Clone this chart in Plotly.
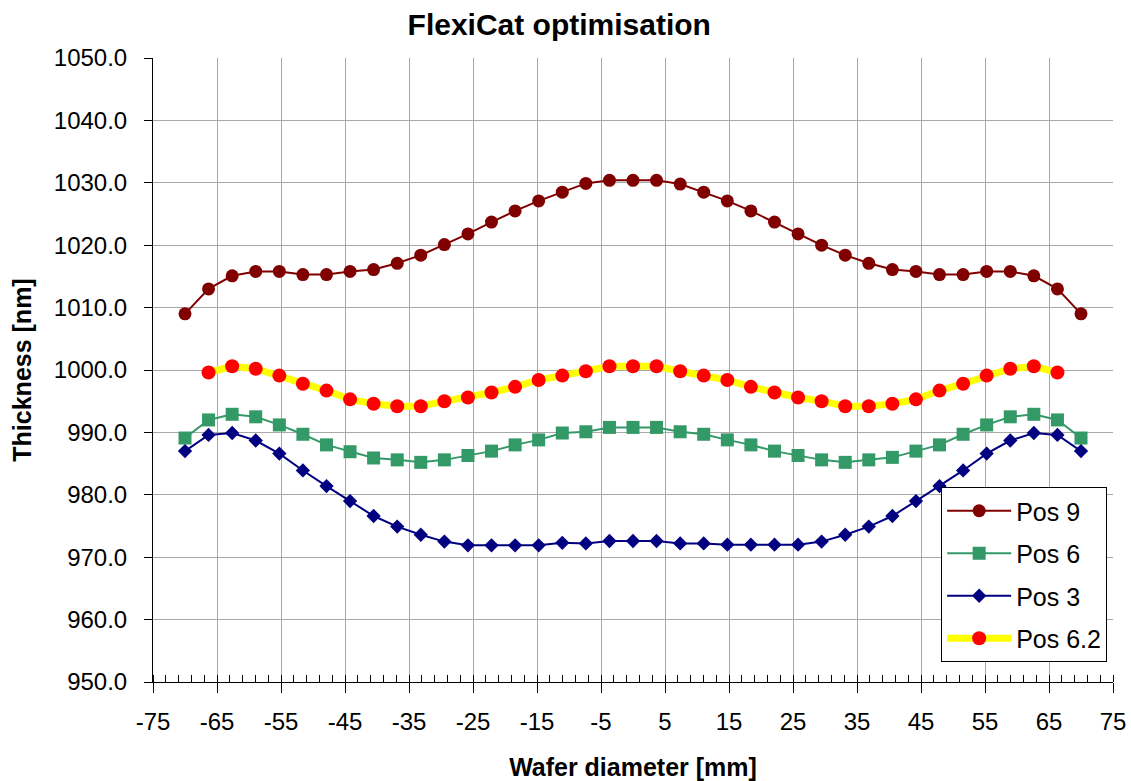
import plotly.graph_objects as go

# x positions (mm) of the measurement points
x_full = [-70.0, -66.32, -62.63, -58.95, -55.26, -51.58, -47.89, -44.21, -40.53, -36.84,
          -33.16, -29.47, -25.79, -22.11, -18.42, -14.74, -11.05, -7.37, -3.68, 0.0,
          3.68, 7.37, 11.05, 14.74, 18.42, 22.11, 25.79, 29.47, 33.16, 36.84,
          40.53, 44.21, 47.89, 51.58, 55.26, 58.95, 62.63, 66.32, 70.0]
x_inner = x_full[1:-1]

pos9 = [1009.0, 1013.0, 1015.1, 1015.8, 1015.8, 1015.3, 1015.3, 1015.8, 1016.1, 1017.1,
        1018.4, 1020.1, 1021.8, 1023.7, 1025.5, 1027.1, 1028.5, 1029.9, 1030.4, 1030.4,
        1030.4, 1029.8, 1028.5, 1027.1, 1025.5, 1023.7, 1021.8, 1020.0, 1018.4, 1017.1,
        1016.1, 1015.8, 1015.3, 1015.3, 1015.8, 1015.8, 1015.1, 1013.0, 1009.0]

pos6 = [989.1, 992.0, 992.9, 992.5, 991.2, 989.7, 988.0, 986.9, 985.9, 985.6,
        985.2, 985.6, 986.3, 987.0, 988.0, 988.8, 989.9, 990.1, 990.8, 990.8,
        990.8, 990.1, 989.7, 988.8, 988.0, 987.0, 986.3, 985.6, 985.2, 985.6,
        986.0, 987.0, 988.0, 989.7, 991.2, 992.5, 992.9, 992.0, 989.1]

pos3 = [987.0, 989.6, 989.9, 988.7, 986.6, 983.9, 981.4, 979.0, 976.6, 974.9,
        973.6, 972.5, 971.9, 971.9, 971.9, 971.9, 972.3, 972.2, 972.6, 972.6,
        972.6, 972.2, 972.2, 972.0, 972.0, 972.0, 972.0, 972.5, 973.6, 974.9,
        976.6, 979.0, 981.4, 983.9, 986.6, 988.7, 989.9, 989.6, 987.0]

pos62 = [999.6, 1000.6, 1000.2, 999.1, 997.8, 996.7, 995.3, 994.6, 994.2, 994.2,
         995.0, 995.6, 996.4, 997.3, 998.4, 999.1, 999.8, 1000.6, 1000.6,
         1000.6, 999.8, 999.1, 998.4, 997.3, 996.4, 995.6, 995.0, 994.2, 994.2,
         994.6, 995.3, 996.7, 997.8, 999.1, 1000.2, 1000.6, 999.6]

x_ticks = [-75, -65, -55, -45, -35, -25, -15, -5, 5, 15, 25, 35, 45, 55, 65, 75]
x_tick_text = [str(v) for v in x_ticks]
y_ticks = [950, 960, 970, 980, 990, 1000, 1010, 1020, 1030, 1040, 1050]
y_tick_text = ["%.1f" % v for v in y_ticks]

FONT = "Liberation Sans, Arial, sans-serif"

fig = go.Figure()
fig.add_trace(go.Scatter(x=x_full, y=pos9, name="Pos 9", mode="lines+markers", legendgroup="a",
                         line=dict(color="#800000", width=2),
                         marker=dict(symbol="circle", size=13, color="#800000")))
fig.add_trace(go.Scatter(x=x_full, y=pos6, name="Pos 6", mode="lines+markers", legendgroup="b",
                         line=dict(color="#339966", width=2),
                         marker=dict(symbol="square", size=13, color="#339966")))
fig.add_trace(go.Scatter(x=x_full, y=pos3, name="Pos 3", mode="lines+markers", legendgroup="c",
                         line=dict(color="#000080", width=2),
                         marker=dict(symbol="diamond", size=11, color="#000080")))
fig.add_trace(go.Scatter(x=x_inner, y=pos62, name="Pos 6.2", mode="lines+markers", legendgroup="d",
                         line=dict(color="#FFFF00", width=7),
                         marker=dict(symbol="circle", size=14, color="#FF0000")))

fig.update_layout(
    width=1131, height=781,
    margin=dict(l=153, r=18, t=58, b=99, autoexpand=False),
    paper_bgcolor="white", plot_bgcolor="white",
    font=dict(family=FONT, size=24, color="black"),
    title=dict(text="<b>FlexiCat optimisation</b>", x=0.4945, xanchor="center", y=0.969,
               yanchor="middle", font=dict(size=30, family=FONT)),
    legend=dict(x=0.821, y=0.3125, xanchor="left", yanchor="top",
                bgcolor="white", bordercolor="black", borderwidth=1,
                font=dict(size=25, family=FONT), tracegroupgap=7, itemwidth=64),
    showlegend=True,
)
fig.update_xaxes(range=[-75, 75], tickmode="array", tickvals=x_ticks, ticktext=x_tick_text,
                 automargin=False,
                 showgrid=True, gridcolor="#a8a8a8", gridwidth=1,
                 showline=True, linecolor="black", linewidth=1,
                 ticks="outside", ticklen=10, tickcolor="black",
                 minor=dict(dtick=2, tick0=-75, ticks="inside", ticklen=7, tickcolor="black",
                            showgrid=False),
                 tickfont=dict(size=24), zeroline=False, ticklabelstandoff=8,
                 title=dict(text="<b>Wafer diameter [mm]</b>", font=dict(size=25), standoff=24))
fig.update_yaxes(range=[950, 1050], tickmode="array", tickvals=y_ticks, ticktext=y_tick_text,
                 automargin=False,
                 showgrid=True, gridcolor="#a8a8a8", gridwidth=1,
                 showline=True, linecolor="black", linewidth=1,
                 ticks="outside", ticklen=8, tickcolor="black",
                 tickfont=dict(size=24), zeroline=False, ticklabelstandoff=12,
                 title=dict(text="<b>Thickness [nm]</b>", font=dict(size=25), standoff=15))

fig.write_html("out.html")
